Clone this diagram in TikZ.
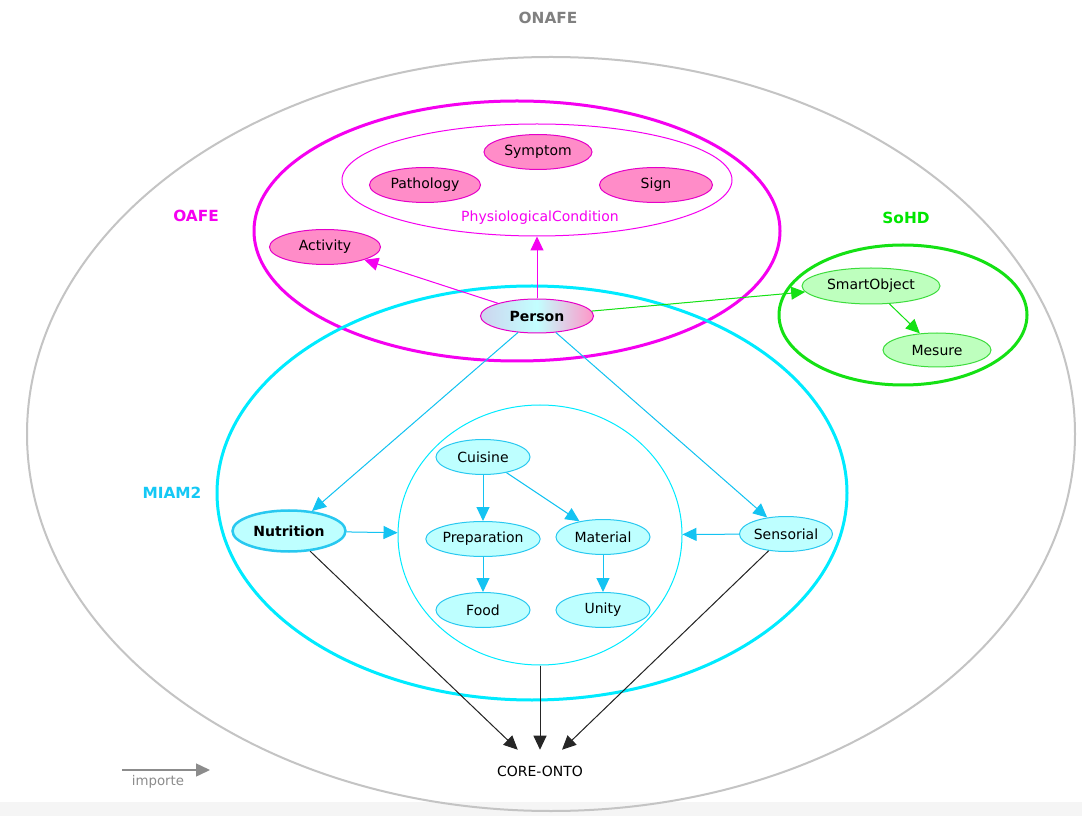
\documentclass[tikz,border=0pt]{standalone}
\usepackage{fontspec}
\setmainfont{DejaVu Sans}
\usetikzlibrary{shapes.geometric,arrows.meta}
\newdimen\pxu \pxu=0.75pt
\definecolor{onafegray}{RGB}{128,128,128}
\definecolor{onafeline}{RGB}{196,196,196}
\definecolor{oafeline}{RGB}{245,0,240}
\definecolor{oafetext}{RGB}{245,0,240}
\definecolor{pinkfill}{RGB}{255,140,200}
\definecolor{pinkline}{RGB}{230,0,200}
\definecolor{miamline}{RGB}{0,235,255}
\definecolor{miamtext}{RGB}{20,200,245}
\definecolor{cyanfill}{RGB}{190,255,255}
\definecolor{cyanline}{RGB}{40,200,240}
\definecolor{cyanarrow}{RGB}{20,195,242}
\definecolor{sohdline}{RGB}{20,225,20}
\definecolor{sohdtext}{RGB}{0,230,0}
\definecolor{greenfill}{RGB}{190,255,190}
\definecolor{greenline}{RGB}{60,220,60}
\definecolor{legendgray}{RGB}{140,140,140}
\definecolor{personleft}{RGB}{205,212,238}
\definecolor{personmid}{RGB}{195,255,255}
\definecolor{personright}{RGB}{255,150,200}
\tikzset{
  container/.style={ellipse, inner sep=0pt, draw},
  grouplabel/.style={font=\fontsize{11.5}{13}\selectfont\bfseries, inner sep=0pt},
  cls/.style={ellipse, inner sep=0pt, font=\fontsize{10.5}{12}\selectfont,
    minimum height=35\pxu, line width=1\pxu},
  pinkcls/.style={cls, draw=pinkline, fill=pinkfill},
  cyancls/.style={cls, draw=cyanline, fill=cyanfill},
  greencls/.style={cls, draw=greenline, fill=greenfill},
  imp/.style={-{Triangle[length=10.5pt,width=9.75pt]}, line width=0.75pt},
}
\begin{document}
\begin{tikzpicture}[x=0.75pt,y=-0.75pt]
\useasboundingbox (0,0) rectangle (1082,816);
\fill[white] (0,0) rectangle (1082,816);
\fill[black!4] (0,802) rectangle (1082,816);

% ontology containers
\node[container, draw=onafeline, line width=2\pxu, minimum width=1048\pxu, minimum height=754\pxu] (onafe) at (551,434) {};
\node[container, draw=oafeline, line width=3\pxu, minimum width=526\pxu, minimum height=260\pxu] (oafe) at (517,231) {};
\node[container, draw=miamline, line width=3\pxu, minimum width=630\pxu, minimum height=414\pxu] (miam) at (532,493) {};
\node[container, draw=sohdline, line width=3\pxu, minimum width=248\pxu, minimum height=140\pxu] (sohd) at (903,315) {};
\node[container, draw=oafeline, line width=1\pxu, minimum width=390\pxu, minimum height=112\pxu] (physio) at (537,180) {};
\node[container, draw=miamline, line width=1\pxu, minimum width=284\pxu, minimum height=260\pxu] (inner) at (540,535) {};

% group labels
\node[grouplabel, text=onafegray] (lonafe) at (548,18) {ONAFE};
\node[grouplabel, text=oafetext] (loafe) at (196,216) {OAFE};
\node[grouplabel, text=miamtext] (lmiam) at (172,493) {MIAM2};
\node[grouplabel, text=sohdtext] (lsohd) at (906,218) {SoHD};
\node[font=\fontsize{10.5}{12}\selectfont, text=oafetext, inner sep=0pt] (lphysio) at (540,218) {PhysiologicalCondition};

% OAFE classes
\node[pinkcls, minimum width=108\pxu] (symptom) at (538,152) {Symptom};
\node[pinkcls, minimum width=111\pxu] (pathology) at (425,185) {Pathology};
\node[pinkcls, minimum width=113\pxu] (sign) at (656,185) {Sign};
\node[pinkcls, minimum width=111\pxu] (activity) at (325,247) {Activity};
\node[cls, draw=pinkline, minimum width=113\pxu, minimum height=34\pxu,
  left color=personleft, right color=personright, middle color=personmid,
  font=\fontsize{10.5}{12}\selectfont\bfseries] (person) at (537,316) {Person};

% MIAM2 classes
\node[cyancls, line width=2.5\pxu, minimum width=113\pxu, minimum height=41\pxu,
  font=\fontsize{10.5}{12}\selectfont\bfseries] (nutrition) at (289,531) {Nutrition};
\node[cyancls, minimum width=93\pxu] (sensorial) at (786,534) {Sensorial};
\node[cyancls, minimum width=94\pxu] (cuisine) at (483,457) {Cuisine};
\node[cyancls, minimum width=94\pxu] (preparation) at (483,539) {Preparation};
\node[cyancls, minimum width=94\pxu] (material) at (603,537) {Material};
\node[cyancls, minimum width=94\pxu] (food) at (483,610) {Food};
\node[cyancls, minimum width=94\pxu] (unity) at (603,610) {Unity};

% SoHD classes
\node[greencls, minimum width=138\pxu, minimum height=36\pxu] (smart) at (871,286) {SmartObject};
\node[greencls, minimum width=108\pxu, minimum height=34\pxu] (mesure) at (937,350) {Mesure};

% core ontology
\node[font=\fontsize{10.5}{12}\selectfont, inner sep=0pt, minimum width=100\pxu, minimum height=42\pxu] (core) at (540,771) {CORE-ONTO};

% imports
\draw[imp, draw=oafeline, fill=oafeline] (person) -- (activity);
\draw[imp, draw=oafeline, fill=oafeline] (person) -- (physio);
\draw[imp, draw=sohdline, fill=sohdline] (person) -- (smart);
\draw[imp, draw=sohdline, fill=sohdline] (smart) -- (mesure);
\draw[imp, draw=cyanarrow, fill=cyanarrow] (person) -- (nutrition);
\draw[imp, draw=cyanarrow, fill=cyanarrow] (person) -- (sensorial);
\draw[imp, draw=cyanarrow, fill=cyanarrow] (nutrition) -- (inner);
\draw[imp, draw=cyanarrow, fill=cyanarrow] (sensorial) -- (inner);
\draw[imp, draw=cyanarrow, fill=cyanarrow] (cuisine) -- (preparation);
\draw[imp, draw=cyanarrow, fill=cyanarrow] (cuisine) -- (material);
\draw[imp, draw=cyanarrow, fill=cyanarrow] (preparation) -- (food);
\draw[imp, draw=cyanarrow, fill=cyanarrow] (material) -- (unity);
\draw[imp, draw=black!85, fill=black] (nutrition) -- (core);
\draw[imp, draw=black!85, fill=black] (inner.south) -- (core);
\draw[imp, draw=black!85, fill=black] (sensorial) -- (core);

% legend
\coordinate (legA) at (122,770);
\coordinate (legB) at (210,770);
\draw[imp, draw=legendgray, fill=legendgray, line width=1.1pt] (legA) -- (legB);
\node[font=\fontsize{10}{12}\selectfont, text=legendgray, inner sep=0pt] (legtext) at (158,782) {importe};
\end{tikzpicture}
\end{document}
